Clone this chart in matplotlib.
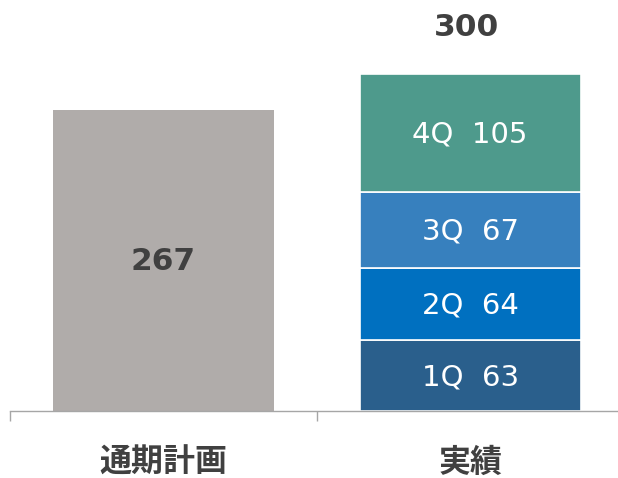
import matplotlib
matplotlib.use("Agg")
import matplotlib.pyplot as plt

categories = ["通期計画", "実績"]
plan_value = 267
quarters = ["1Q", "2Q", "3Q", "4Q"]
quarter_values = [63, 64, 67, 105]
actual_total_label = "300"

plan_color = "#B0ACAA"
quarter_colors = ["#2A5F8C", "#0070C0", "#3780BE", "#4E9A8C"]
text_color = "#404040"

fig = plt.figure(figsize=(6.18, 4.78), dpi=100)
ax = fig.add_axes([10 / 618, 67 / 478, 1 - 10 / 618, 1 - 67 / 478])

bar_w = 0.72
ax.bar(0, plan_value, width=bar_w, color=plan_color)
ax.text(0, plan_value / 2 - 1, str(plan_value), ha="center", va="center",
        fontsize=22.5, fontweight="bold", color=text_color, family="DejaVu Sans")

bottom = 0
for q, v, c in zip(quarters, quarter_values, quarter_colors):
    ax.bar(1, v, width=bar_w, bottom=bottom, color=c, edgecolor="white", linewidth=1.2)
    ax.text(1, bottom + v / 2 - 1.5, f"{q}  {v}", ha="center", va="center",
            fontsize=21, color="white", family="DejaVu Sans")
    bottom += v

ax.text(0.987, bottom + 41, actual_total_label, ha="center", va="center",
        fontsize=22.5, fontweight="bold", color=text_color, family="DejaVu Sans")

ax.set_xlim(-0.5, 1.482)
ax.set_ylim(0, 364.7)

for s in ["top", "right", "left"]:
    ax.spines[s].set_visible(False)
ax.spines["bottom"].set_color("#A6A6A6")
ax.spines["bottom"].set_linewidth(1)
ax.set_yticks([])
ax.set_xticks([-0.5, 0.5])
ax.set_xticklabels([])
ax.tick_params(axis="x", length=7, color="#A6A6A6", width=1)

for i, cat in enumerate(categories):
    ax.text(i, -46, cat, ha="center", va="center", fontsize=23, fontweight="bold",
            color=text_color, family=["Noto Sans CJK JP", "DejaVu Sans"])

fig.savefig("out.png", dpi=100)
